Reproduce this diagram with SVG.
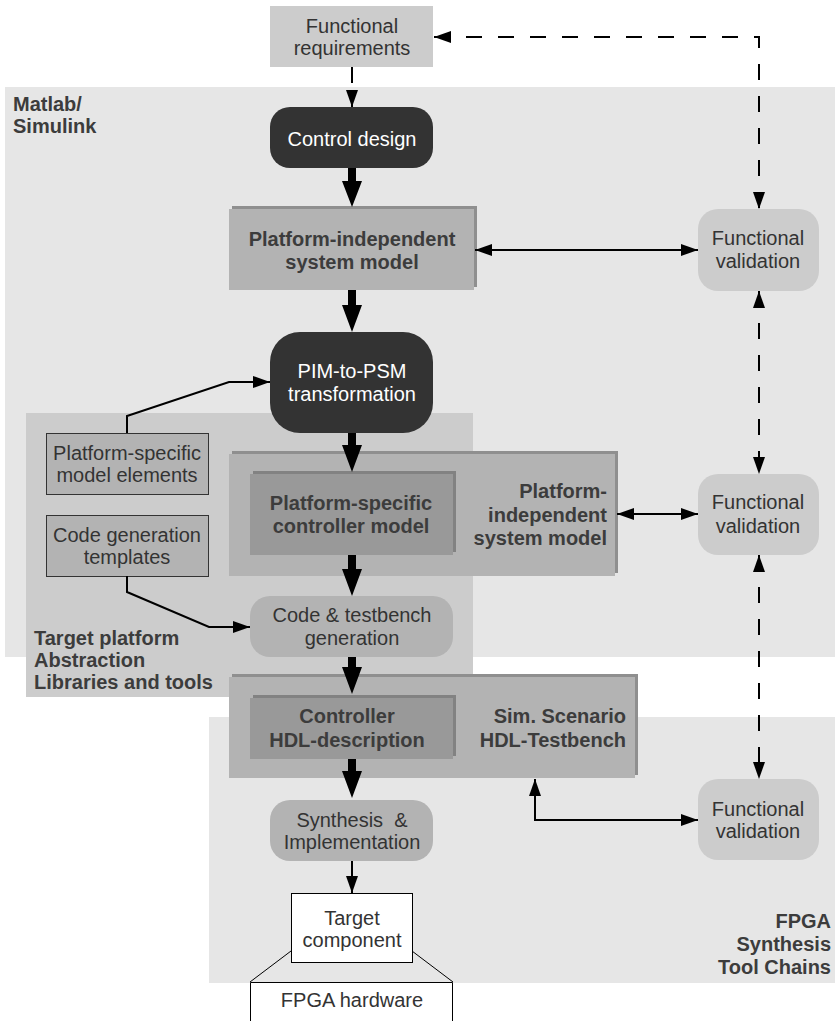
<svg xmlns="http://www.w3.org/2000/svg" width="835" height="1021" viewBox="0 0 835 1021">
<style>
text{font-family:"Liberation Sans",Arial,sans-serif;font-size:20px;fill:#333}
.b{font-weight:bold;fill:#3c3c3c}
.w{fill:#fff}
.c{text-anchor:middle}
.r{text-anchor:end}
.thin{fill:none;stroke:#000;stroke-width:2}
.dash{fill:none;stroke:#000;stroke-width:2;stroke-dasharray:16,16}
.thick{fill:#000}
.dark{fill:#333}
.box{fill:#b3b3b3}
.boxsh{fill:#8f8f8f}
.inner{fill:#999}
.innersh{fill:#828282}
.light{fill:#ccc}
</style>
<defs>
<marker id="ah" markerUnits="userSpaceOnUse" markerWidth="17" markerHeight="12" refX="17" refY="6" orient="auto-start-reverse" viewBox="0 0 17 12">
<path d="M0,0 L17,6 L0,12 z" fill="#000"/>
</marker>
</defs>

<g id="regions">
<rect id="matlab" x="5" y="87" width="830" height="570" fill="#e6e6e6"/>
<rect id="fpga-region" x="209" y="717" width="626" height="266" fill="#e6e6e6"/>
<rect id="target-region" x="26" y="413" width="447" height="284" fill="#ccc"/>
<text class="b" x="13" y="111">Matlab/</text>
<text class="b" x="13" y="133">Simulink</text>
<text class="b" x="34" y="645">Target platform</text>
<text class="b" x="34" y="667">Abstraction</text>
<text class="b" x="34" y="689">Libraries and tools</text>
<text class="b r" x="831" y="928">FPGA</text>
<text class="b r" x="831" y="951">Synthesis</text>
<text class="b r" x="831" y="974">Tool Chains</text>
</g>

<g id="func-req">
<rect x="270" y="6" width="163" height="61" fill="#ccc"/>
<text class="c" x="352" y="33">Functional</text>
<text class="c" x="352" y="55">requirements</text>
</g>

<g id="control-design">
<rect class="dark" x="270" y="107" width="163" height="61" rx="20"/>
<text class="c w" x="352" y="146">Control design</text>
</g>

<g id="pim">
<rect class="boxsh" x="232" y="206" width="245" height="81"/>
<rect class="box" x="229" y="209" width="245" height="81"/>
<text class="c b" x="352" y="246">Platform-independent</text>
<text class="c b" x="352" y="269">system model</text>
</g>

<g id="pim-to-psm">
<rect class="dark" x="270" y="332" width="163" height="101" rx="30"/>
<text class="c w" x="352" y="378">PIM-to-PSM</text>
<text class="c w" x="352" y="401">transformation</text>
</g>

<g id="ps-elements">
<rect class="box" x="46.5" y="433.5" width="162" height="61" stroke="#333" stroke-width="1"/>
<text class="c" x="127" y="460">Platform-specific</text>
<text class="c" x="127" y="482">model elements</text>
</g>

<g id="cg-templates">
<rect class="box" x="46.5" y="515.5" width="162" height="61" stroke="#333" stroke-width="1"/>
<text class="c" x="127" y="542">Code generation</text>
<text class="c" x="127" y="564">templates</text>
</g>

<g id="psm">
<rect class="boxsh" x="232" y="451" width="386" height="122"/>
<rect class="box" x="229" y="454" width="386" height="122"/>
<text class="b r" x="607" y="498">Platform-</text>
<text class="b r" x="607" y="522">independent</text>
<text class="b r" x="607" y="545">system model</text>
</g>

<g id="ps-controller">
<rect class="innersh" x="253" y="471" width="203" height="81"/>
<rect class="inner" x="250" y="474" width="203" height="81"/>
<text class="c b" x="351" y="510">Platform-specific</text>
<text class="c b" x="351" y="533">controller model</text>
</g>

<g id="code-gen">
<rect class="box" x="250" y="596" width="203" height="61" rx="20"/>
<text class="c" x="352" y="622">Code &amp; testbench</text>
<text class="c" x="352" y="645">generation</text>
</g>

<g id="hdl-testbench">
<rect class="boxsh" x="232" y="674" width="406" height="101"/>
<rect class="box" x="229" y="677" width="406" height="101"/>
<text class="b r" x="626" y="723">Sim. Scenario</text>
<text class="b r" x="626" y="747">HDL-Testbench</text>
</g>

<g id="hdl-controller">
<rect class="innersh" x="253" y="695" width="203" height="61"/>
<rect class="inner" x="250" y="698" width="203" height="61"/>
<text class="c b" x="347" y="723">Controller</text>
<text class="c b" x="347" y="747">HDL-description</text>
</g>

<g id="synthesis">
<rect class="box" x="270" y="800" width="163" height="61" rx="20"/>
<text class="c" x="352" y="827" xml:space="preserve">Synthesis  &amp;</text>
<text class="c" x="352" y="849">Implementation</text>
</g>

<g id="target-component">
<rect x="291.5" y="893.5" width="121" height="69" fill="#fff" stroke="#000" stroke-width="1"/>
<text class="c" x="352" y="925">Target</text>
<text class="c" x="352" y="947">component</text>
</g>

<g id="fpga-hardware">
<path d="M291,951 L250,982 M412,951 L453,982" stroke="#000" stroke-width="1" fill="none"/>
<path d="M250.5,1022 L250.5,982.5 L452.5,982.5 L452.5,1022" fill="#fff" stroke="#000" stroke-width="1"/>
<text class="c" x="352" y="1007">FPGA hardware</text>
</g>

<g id="fv1">
<rect class="light" x="698" y="209" width="121" height="82" rx="20"/>
<text class="c" x="758" y="245">Functional</text>
<text class="c" x="758" y="268">validation</text>
</g>
<g id="fv2">
<rect class="light" x="698" y="474" width="121" height="81" rx="20"/>
<text class="c" x="758" y="509">Functional</text>
<text class="c" x="758" y="533">validation</text>
</g>
<g id="fv3">
<rect class="light" x="698" y="779" width="121" height="81" rx="20"/>
<text class="c" x="758" y="816">Functional</text>
<text class="c" x="758" y="838">validation</text>
</g>

<g id="connectors">
<path class="thick" d="M348,168 H356 V181 H362 L352,207 L342,181 H348 z"/>
<path class="thick" d="M348,290 H356 V305 H362 L352,332 L342,305 H348 z"/>
<path class="thick" d="M348,433 H356 V445 H362 L352,472 L342,445 H348 z"/>
<path class="thick" d="M348,555 H356 V569 H362 L352,596 L342,569 H348 z"/>
<path class="thick" d="M348,657 H356 V667 H362 L352,694 L342,667 H348 z"/>
<path class="thick" d="M348,759 H356 V771 H362 L352,798 L342,771 H348 z"/>

<path class="thin" d="M352,861 L352,893" marker-end="url(#ah)"/>
<path class="thin" d="M475,250 L698,250" marker-start="url(#ah)" marker-end="url(#ah)"/>
<path class="thin" d="M617,514 L698,514" marker-start="url(#ah)" marker-end="url(#ah)"/>
<path class="thin" d="M535,779 L535,820 L698,820" marker-start="url(#ah)" marker-end="url(#ah)"/>
<path class="thin" d="M127,433 L127,416 L229,382 L270,382" marker-end="url(#ah)"/>
<path class="thin" d="M127,576 L127,592 L209,627 L250,627" marker-end="url(#ah)"/>

<path class="dash" d="M352,67 L352,107" marker-end="url(#ah)"/>
<path class="dash" d="M434,37 L759,37 L759,209" marker-start="url(#ah)" marker-end="url(#ah)"/>
<path class="dash" d="M759,291 L759,474" marker-start="url(#ah)" marker-end="url(#ah)"/>
<path class="dash" d="M759,555 L759,779" marker-start="url(#ah)" marker-end="url(#ah)"/>
</g>
</svg>
